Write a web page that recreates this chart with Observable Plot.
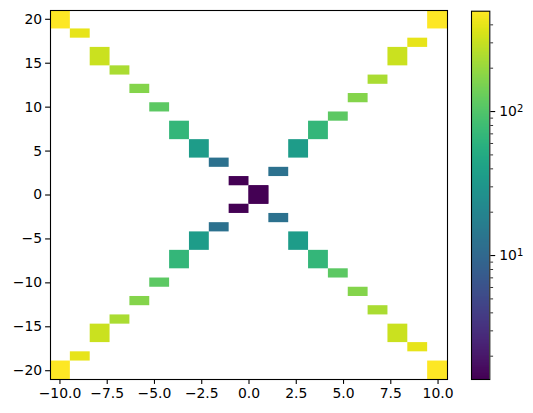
<!DOCTYPE html>
<html>
<head>
<meta charset="utf-8">
<script src="https://cdn.jsdelivr.net/npm/d3@7"></script>
<script src="https://cdn.jsdelivr.net/npm/@observablehq/plot@0.6"></script>
<style>
  body { margin: 0; background: white; }
  #wrap { position: relative; width: 533px; height: 413px; }
  #main { position: absolute; left: 0; top: 0; }
  #cbar { position: absolute; left: 461px; top: 0; }
</style>
</head>
<body>
<div id="wrap"><div id="main"></div><div id="cbar"></div></div>
<script>
// x bin edges (20 bins)
const xEdges = [-10.5, -9.45, -8.4, -7.35, -6.3, -5.25, -4.2, -3.15, -2.1, -1.05, 0,
                1.05, 2.1, 3.15, 4.2, 5.25, 6.3, 7.35, 8.4, 9.45, 10.5];
// weighted count of the cells in each x bin
const counts = [498, 398, 310, 233, 167, 112, 68, 35, 12.4, 1.38,
                1.38, 12.4, 35, 68, 112, 167, 233, 310, 398, 498];
// upper branch: y extent of the cell in each x bin
const upperY1 = [18.9, 17.85, 14.7, 13.65, 11.55, 9.45, 6.3, 4.2, 3.15, 1.05,
                 -1.05, 2.1, 4.2, 6.3, 8.4, 10.5, 12.6, 14.7, 16.8, 18.9];
const upperY2 = [21, 18.9, 16.8, 14.7, 12.6, 10.5, 8.4, 6.3, 4.2, 2.1,
                 1.05, 3.15, 6.3, 8.4, 9.45, 11.55, 13.65, 16.8, 17.85, 21];
// lower branch
const lowerY1 = [-21, -18.9, -16.8, -14.7, -12.6, -10.5, -8.4, -6.3, -4.2, -2.1,
                 -1.05, -3.15, -6.3, -8.4, -9.45, -11.55, -13.65, -16.8, -17.85, -21];
const lowerY2 = [-18.9, -17.85, -14.7, -13.65, -11.55, -9.45, -6.3, -4.2, -3.15, -1.05,
                 1.05, -2.1, -4.2, -6.3, -8.4, -10.5, -12.6, -14.7, -16.8, -18.9];

const xTicks = [-10, -7.5, -5, -2.5, 0, 2.5, 5, 7.5, 10];
const yTicks = [-20, -15, -10, -5, 0, 5, 10, 15, 20];
const cbMajor = [10, 100];
const cbMajorExp = ["1", "2"];
const cbMinor = [2, 3, 4, 5, 6, 7, 8, 9, 20, 30, 40, 50, 60, 70, 80, 90, 200, 300, 400];
const cMin = 1.378, cMax = 497.5;

const cells = [];
for (let i = 0; i < counts.length; i++) {
  cells.push({x1: xEdges[i], x2: xEdges[i + 1], y1: upperY1[i], y2: upperY2[i], count: counts[i]});
  cells.push({x1: xEdges[i], x2: xEdges[i + 1], y1: lowerY1[i], y2: lowerY2[i], count: counts[i]});
}

const minus = s => s.replace("-", "\u2212");
const color = {type: "log", scheme: "viridis", domain: [cMin, cMax]};
const font = {fontFamily: "DejaVu Sans", fontSize: "13.9px", color: "black", background: "white"};

const main = Plot.plot({
  width: 533, height: 413,
  marginLeft: 50, marginRight: 86, marginTop: 10, marginBottom: 34,
  style: font,
  x: {domain: [-10.5, 10.5], label: null},
  y: {domain: [-21, 21], label: null},
  color,
  marks: [
    Plot.rect(cells, {x1: "x1", x2: "x2", y1: "y1", y2: "y2", fill: "count"}),
    Plot.frame({stroke: "black", strokeWidth: 1.1}),
    Plot.axisX(xTicks, {tickSize: 4.9, tickPadding: 4, strokeWidth: 1.1, label: null,
      tickFormat: d => minus(d.toFixed(1))}),
    Plot.axisY(yTicks, {tickSize: 4.9, tickPadding: 3.5, strokeWidth: 1.1, label: null,
      tickFormat: d => minus(String(d))})
  ]
});
document.getElementById("main").appendChild(main);

// colour bar ramp
const N = 256;
const lo = Math.log10(cMin), hi = Math.log10(cMax);
const ramp = d3.range(N).map(i => {
  const a = Math.pow(10, lo + (hi - lo) * i / N);
  const b = Math.pow(10, lo + (hi - lo) * (i + 1) / N);
  return {x1: 0, x2: 1, a, b, v: Math.sqrt(a * b)};
});

const cbar = Plot.plot({
  width: 72, height: 413,
  marginLeft: 10, marginRight: 43.7, marginTop: 10.7, marginBottom: 34,
  style: font,
  x: {domain: [0, 1], axis: null},
  y: {type: "log", domain: [cMin, cMax], axis: null},
  color,
  marks: [
    Plot.rect(ramp, {x1: "x1", x2: "x2", y1: "a", y2: "b", fill: "v", shapeRendering: "crispEdges"}),
    Plot.frame({stroke: "black", strokeWidth: 1.1}),
    Plot.axisY(cbMajor, {anchor: "right", tickSize: 4.9, tickPadding: 4.5, strokeWidth: 1.1, label: null,
      tickFormat: d => "10^" + cbMajorExp[cbMajor.indexOf(d)]}),
    Plot.axisY(cbMinor, {anchor: "right", tickSize: 2.8, strokeWidth: 0.8, label: null,
      tickFormat: () => ""})
  ]
});
document.getElementById("cbar").appendChild(cbar);

// render "10^n" labels as a base with a raised, smaller exponent
d3.select(cbar).selectAll("text").each(function () {
  const t = this.textContent;
  const m = /^10\^(\d+)$/.exec(t);
  if (!m) return;
  const sel = d3.select(this);
  sel.text("10");
  sel.append("tspan").attr("dy", "-0.42em").attr("font-size", "0.72em").text(m[1]);
});
</script>
</body>
</html>
